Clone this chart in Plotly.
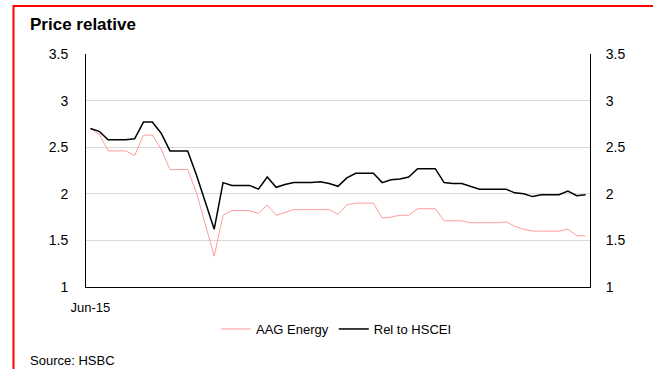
import pandas as pd
import plotly.graph_objects as go

# weekly observations starting June 2015
dates = [d.strftime("%Y-%m-%d") for d in pd.date_range("2015-06-05", periods=57, freq="7D")]
tick_vals = [dates[0]]
tick_text = ["Jun-15"]

aag_energy = [2.70, 2.64, 2.46, 2.46, 2.46, 2.41, 2.63, 2.63, 2.48, 2.26,
              2.26, 2.26, 2.01, 1.67, 1.33, 1.77, 1.82, 1.82, 1.82, 1.79,
              1.88, 1.77, 1.80, 1.83, 1.83, 1.83, 1.83, 1.83, 1.78, 1.88,
              1.90, 1.90, 1.90, 1.74, 1.75, 1.77, 1.77, 1.84, 1.84, 1.84,
              1.71, 1.71, 1.71, 1.69, 1.69, 1.69, 1.69, 1.70, 1.65, 1.62,
              1.60, 1.60, 1.60, 1.60, 1.62, 1.55, 1.55]

rel_hscei = [2.70, 2.67, 2.58, 2.58, 2.58, 2.59, 2.77, 2.77, 2.65, 2.46,
             2.46, 2.46, 2.20, 1.91, 1.62, 2.12, 2.09, 2.09, 2.09, 2.05,
             2.18, 2.07, 2.10, 2.12, 2.12, 2.12, 2.13, 2.11, 2.08, 2.17,
             2.22, 2.22, 2.22, 2.12, 2.15, 2.16, 2.18, 2.27, 2.27, 2.27,
             2.12, 2.11, 2.11, 2.08, 2.05, 2.05, 2.05, 2.05, 2.01, 2.00,
             1.97, 1.99, 1.99, 1.99, 2.03, 1.98, 1.99]

y_ticks = [1, 1.5, 2, 2.5, 3, 3.5]
y_tick_text = ["1", "1.5", "2", "2.5", "3", "3.5"]

FONT = "Liberation Sans, Arial, sans-serif"

fig = go.Figure()
fig.add_trace(go.Scatter(x=dates, y=aag_energy, mode="lines", name="AAG Energy",
                         line=dict(color="#FF9C9C", width=1)))
fig.add_trace(go.Scatter(x=dates, y=rel_hscei, mode="lines", name="Rel to HSCEI",
                         line=dict(color="#000000", width=1.5)))
# invisible trace to activate right axis
fig.add_trace(go.Scatter(x=dates, y=rel_hscei, mode="lines", yaxis="y2",
                         showlegend=False, hoverinfo="skip",
                         line=dict(color="rgba(0,0,0,0)", width=0)))

L, R, T, B = 86, 590, 54, 287
W, H = 653, 369

def px(xp):
    return (xp - L) / (R - L)

def py(yp):
    return (B - yp) / (B - T)

fig.update_layout(
    width=W, height=H,
    margin=dict(l=L, r=W - R, t=T, b=H - B, pad=0),
    paper_bgcolor="white", plot_bgcolor="white",
    font=dict(family=FONT, size=13, color="#000000"),
    showlegend=True,
    legend=dict(orientation="h", x=px(216), xanchor="left", y=py(329), yanchor="middle",
                font=dict(family=FONT, size=13), bgcolor="rgba(0,0,0,0)",
                itemwidth=30, tracegroupgap=0),
    xaxis=dict(type="category", range=[-0.5, len(dates) - 0.5],
               tickvals=tick_vals, ticktext=tick_text, tickangle=0,
               showgrid=False, zeroline=False, showline=True, linecolor="#000000",
               linewidth=1, ticks="", ticklabelstandoff=8,
               tickfont=dict(family=FONT, size=13)),
    yaxis=dict(range=[1, 3.5], tickvals=y_ticks, ticktext=y_tick_text,
               showgrid=True, gridcolor="#D9D9D9", gridwidth=1, zeroline=False,
               showline=True, linecolor="#000000", linewidth=1, ticks="",
               ticklabelstandoff=14, tickfont=dict(family=FONT, size=14)),
    yaxis2=dict(range=[1, 3.5], tickvals=y_ticks, ticktext=y_tick_text,
                overlaying="y", side="right", showgrid=False, zeroline=False,
                showline=True, linecolor="#000000", linewidth=1, ticks="",
                ticklabelstandoff=12, tickfont=dict(family=FONT, size=14)),
)

fig.add_annotation(text="<b>Price relative</b>", xref="paper", yref="paper",
                   x=px(28), y=py(24), xanchor="left", yanchor="middle",
                   showarrow=False, font=dict(family=FONT, size=17, color="#000000"))
fig.add_annotation(text="Source: HSBC", xref="paper", yref="paper",
                   x=px(28), y=py(360), xanchor="left", yanchor="middle",
                   showarrow=False, font=dict(family=FONT, size=13, color="#000000"))

# red frame (top and left edges)
fig.add_shape(type="line", xref="paper", yref="paper", x0=px(13), x1=px(660),
              y0=py(6), y1=py(6), line=dict(color="#FF0000", width=2))
fig.add_shape(type="line", xref="paper", yref="paper", x0=px(13.5), x1=px(13.5),
              y0=py(5), y1=py(380), line=dict(color="#FF0000", width=2))

fig.write_html("out.html")
